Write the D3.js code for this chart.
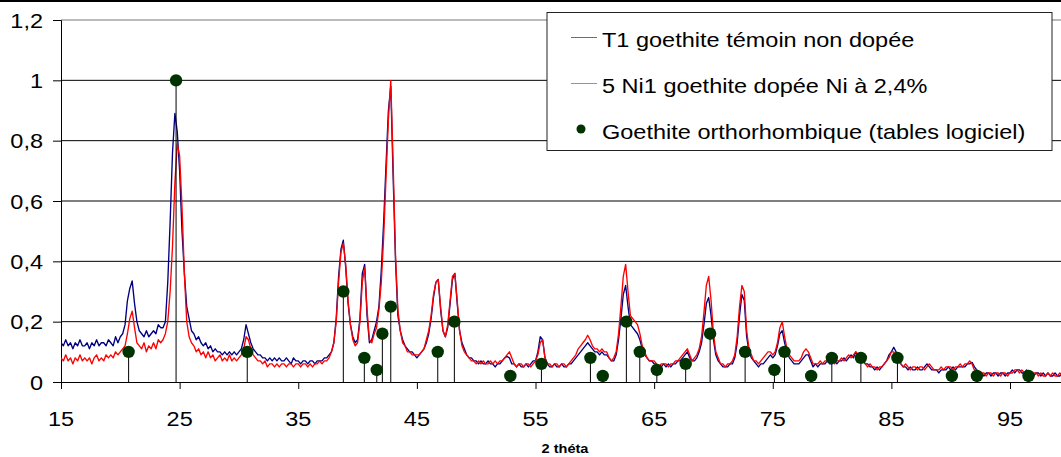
<!DOCTYPE html>
<html><head><meta charset="utf-8">
<script src="https://cdn.jsdelivr.net/npm/d3@7"></script>
<style>body{margin:0;background:#fff}svg{display:block}</style>
</head><body>
<svg id="c" width="1061" height="457"></svg>
<script>
// ---------- DATA ----------
const thetaStart = 15;
const thetaStep = 0.2;
// T1 goethite témoin non dopée (15.0 → 99.8, every 0.2°)
const t1Values = [
 0.13,0.12,0.14,0.12,0.13,0.11,0.13,0.12,0.14,0.12,0.12,0.13,0.11,0.13,0.12,0.14,0.12,0.13,0.13,0.12,0.14,0.13,0.12,0.15,0.13,
 0.15,0.16,0.19,0.27,0.31,0.335,0.26,0.2,0.17,0.16,0.15,0.17,0.15,0.16,0.17,0.16,0.19,0.18,0.18,0.2,0.33,0.53,0.76,0.89,0.83,
 0.7,0.5,0.36,0.25,0.21,0.17,0.16,0.14,0.15,0.13,0.12,0.13,0.11,0.12,0.1,0.11,0.1,0.1,0.09,0.1,0.09,0.1,0.09,0.1,0.09,
 0.1,0.11,0.14,0.19,0.16,0.13,0.11,0.1,0.09,0.09,0.08,0.08,0.07,0.08,0.07,0.08,0.07,0.08,0.07,0.07,0.08,0.07,0.06,0.08,0.07,
 0.07,0.06,0.07,0.07,0.06,0.07,0.07,0.06,0.07,0.07,0.07,0.08,0.08,0.09,0.1,0.13,0.21,0.35,0.44,0.47,0.38,0.26,0.19,0.15,0.13,
 0.14,0.21,0.36,0.39,0.22,0.13,0.14,0.17,0.2,0.25,0.37,0.53,0.72,0.9,0.98,0.68,0.4,0.22,0.17,0.14,0.12,0.11,0.1,0.1,0.09,
 0.08,0.09,0.1,0.11,0.13,0.16,0.21,0.28,0.33,0.34,0.24,0.17,0.15,0.18,0.26,0.34,0.36,0.26,0.17,0.13,0.11,0.09,0.08,0.08,0.07,
 0.07,0.06,0.07,0.06,0.06,0.07,0.06,0.06,0.05,0.06,0.06,0.07,0.08,0.085,0.08,0.06,0.06,0.05,0.06,0.05,0.05,0.06,0.05,0.06,0.07,
 0.07,0.1,0.15,0.14,0.08,0.06,0.05,0.05,0.06,0.05,0.05,0.06,0.05,0.05,0.06,0.06,0.07,0.08,0.09,0.1,0.11,0.12,0.13,0.12,0.11,
 0.1,0.1,0.09,0.1,0.09,0.09,0.08,0.07,0.07,0.09,0.14,0.21,0.29,0.32,0.25,0.19,0.18,0.17,0.16,0.14,0.11,0.09,0.08,0.07,0.07,
 0.06,0.06,0.05,0.05,0.06,0.05,0.06,0.05,0.06,0.06,0.07,0.07,0.08,0.09,0.1,0.08,0.07,0.07,0.08,0.1,0.13,0.19,0.26,0.28,0.22,
 0.14,0.09,0.07,0.06,0.05,0.05,0.05,0.06,0.06,0.08,0.13,0.22,0.29,0.27,0.15,0.1,0.08,0.07,0.06,0.05,0.06,0.06,0.07,0.08,0.09,
 0.08,0.09,0.12,0.16,0.17,0.13,0.1,0.08,0.07,0.06,0.06,0.06,0.07,0.08,0.09,0.09,0.07,0.05,0.06,0.05,0.06,0.06,0.06,0.07,0.06,
 0.06,0.07,0.06,0.07,0.07,0.08,0.07,0.08,0.09,0.08,0.1,0.09,0.08,0.07,0.06,0.06,0.05,0.05,0.04,0.05,0.04,0.05,0.06,0.07,0.09,
 0.1,0.115,0.1,0.07,0.06,0.05,0.05,0.04,0.05,0.04,0.04,0.05,0.04,0.04,0.05,0.06,0.05,0.04,0.04,0.04,0.03,0.04,0.04,0.04,0.05,
 0.04,0.05,0.04,0.05,0.05,0.05,0.05,0.06,0.06,0.065,0.05,0.04,0.03,0.03,0.02,0.03,0.03,0.02,0.03,0.03,0.02,0.03,0.03,0.02,0.03,
 0.03,0.04,0.03,0.04,0.04,0.03,0.03,0.04,0.03,0.03,0.02,0.03,0.03,0.02,0.03,0.02,0.03,0.02,0.02,0.03,0.02,0.02,0.03,0.02,0.02
];
// 5 Ni1 goethite dopée Ni à 2,4% (15.0 → 99.8, every 0.2°)
const ni1Values = [
 0.08,0.07,0.09,0.07,0.08,0.06,0.08,0.07,0.09,0.07,0.08,0.07,0.08,0.06,0.08,0.09,0.07,0.08,0.07,0.09,0.08,0.09,0.08,0.1,0.09,
 0.1,0.11,0.12,0.16,0.21,0.235,0.18,0.13,0.12,0.11,0.13,0.1,0.12,0.11,0.13,0.11,0.14,0.13,0.14,0.16,0.2,0.3,0.45,0.66,0.79,
 0.75,0.58,0.36,0.2,0.15,0.13,0.12,0.1,0.11,0.09,0.1,0.08,0.1,0.08,0.09,0.07,0.08,0.09,0.07,0.08,0.07,0.09,0.07,0.08,0.07,
 0.08,0.09,0.11,0.15,0.14,0.11,0.09,0.08,0.07,0.07,0.06,0.07,0.05,0.06,0.06,0.05,0.06,0.05,0.06,0.06,0.05,0.06,0.06,0.05,0.06,
 0.06,0.05,0.06,0.06,0.05,0.06,0.05,0.06,0.06,0.07,0.06,0.07,0.07,0.08,0.1,0.13,0.2,0.33,0.43,0.46,0.39,0.27,0.19,0.14,0.12,
 0.13,0.2,0.33,0.38,0.24,0.14,0.13,0.16,0.18,0.24,0.33,0.48,0.68,0.87,1.0,0.72,0.42,0.24,0.17,0.13,0.12,0.1,0.1,0.09,0.09,
 0.09,0.09,0.1,0.11,0.14,0.17,0.22,0.29,0.33,0.34,0.25,0.17,0.15,0.19,0.27,0.35,0.36,0.27,0.17,0.12,0.1,0.09,0.08,0.07,0.07,
 0.06,0.07,0.06,0.07,0.06,0.06,0.07,0.06,0.07,0.06,0.07,0.07,0.08,0.09,0.1,0.08,0.06,0.05,0.06,0.06,0.05,0.06,0.06,0.05,0.06,
 0.07,0.09,0.13,0.14,0.08,0.06,0.06,0.05,0.06,0.06,0.05,0.06,0.06,0.05,0.06,0.07,0.08,0.09,0.11,0.12,0.13,0.14,0.155,0.14,0.12,
 0.11,0.11,0.1,0.11,0.1,0.1,0.08,0.07,0.08,0.1,0.16,0.25,0.35,0.39,0.3,0.22,0.21,0.2,0.19,0.16,0.12,0.1,0.08,0.07,0.07,
 0.07,0.06,0.05,0.06,0.06,0.06,0.05,0.06,0.06,0.07,0.07,0.08,0.09,0.1,0.11,0.09,0.07,0.08,0.09,0.11,0.15,0.23,0.32,0.35,0.27,
 0.16,0.1,0.08,0.06,0.06,0.05,0.06,0.06,0.07,0.09,0.15,0.25,0.32,0.3,0.17,0.11,0.09,0.07,0.07,0.06,0.07,0.08,0.09,0.1,0.1,
 0.09,0.1,0.13,0.18,0.2,0.15,0.11,0.09,0.08,0.07,0.07,0.07,0.08,0.1,0.11,0.1,0.08,0.06,0.06,0.06,0.07,0.06,0.07,0.07,0.07,
 0.07,0.06,0.07,0.07,0.08,0.07,0.08,0.09,0.08,0.09,0.1,0.09,0.07,0.07,0.06,0.05,0.06,0.05,0.05,0.04,0.05,0.05,0.06,0.07,0.08,
 0.1,0.1,0.08,0.07,0.06,0.05,0.06,0.05,0.04,0.05,0.05,0.04,0.05,0.05,0.04,0.05,0.06,0.05,0.04,0.04,0.04,0.05,0.04,0.05,0.05,
 0.05,0.04,0.05,0.05,0.06,0.05,0.06,0.06,0.07,0.06,0.04,0.04,0.03,0.03,0.03,0.02,0.03,0.03,0.02,0.03,0.03,0.02,0.03,0.03,0.02,
 0.03,0.03,0.04,0.04,0.03,0.04,0.03,0.03,0.03,0.02,0.03,0.03,0.02,0.03,0.02,0.02,0.03,0.02,0.03,0.02,0.02,0.03,0.02,0.02,0.02
];
// Goethite orthorhombique (tables logiciel): positions and relative intensities
const refTheta = [20.7,24.7,30.7,38.8,40.57,41.62,42.09,42.8,46.76,48.16,52.88,55.5,59.63,60.67,62.66,63.79,65.23,67.66,69.72,72.67,75.14,75.99,78.24,79.98,82.43,85.51,90.1,92.21,96.56];
const refIntensity = [0.1,1,0.1,0.3,0.08,0.04,0.16,0.25,0.1,0.2,0.02,0.06,0.08,0.02,0.2,0.1,0.04,0.06,0.16,0.1,0.04,0.1,0.02,0.08,0.08,0.08,0.02,0.02,0.02];

const seriesNames = ["T1 goethite témoin non dopée", "5 Ni1 goethite dopée Ni à 2,4%", "Goethite orthorhombique (tables logiciel)"];
const xTicks = [15,25,35,45,55,65,75,85,95];
const yTicks = [0,0.2,0.4,0.6,0.8,1,1.2];
const yTickLabels = ["0","0,2","0,4","0,6","0,8","1","1,2"];
const xAxisTitle = "2 théta";

// ---------- DRAW ----------
const svg = d3.select("#c");
const W = 1061, H = 457;
const stretch = 1.12;
const FONT = "Liberation Sans, Arial, sans-serif";

const x = d3.scaleLinear().domain([15, 100]).range([61, 61 + 85 * 11.8625]);
const y = d3.scaleLinear().domain([0, 1.2]).range([382, 20]);

svg.append("rect").attr("width", W).attr("height", H).attr("fill", "#fff");
// outer frame (top edge visible)
svg.append("line").attr("x1", 0).attr("x2", W).attr("y1", 1).attr("y2", 1)
  .attr("stroke", "#000").attr("stroke-width", 2);

// gridlines
svg.append("g").selectAll("line").data(yTicks.filter(d => d > 0)).join("line")
  .attr("x1", x(15)).attr("x2", W).attr("y1", d => y(d)).attr("y2", d => y(d))
  .attr("stroke", d => d === 1.2 ? "#777" : "#000").attr("stroke-width", 1);

// axes
const yAxis = d3.axisLeft(y).tickValues(yTicks).tickSize(8).tickFormat("");
const gy = svg.append("g").attr("transform", `translate(${x(15)},0)`).call(yAxis);
gy.select(".domain").attr("stroke", "#000");
gy.selectAll(".tick line").attr("stroke", "#000");
const xAxis = d3.axisBottom(x).tickValues(xTicks).tickSize(7).tickFormat("");
const gx = svg.append("g").attr("transform", `translate(0,${y(0)})`).call(xAxis);
gx.select(".domain").attr("stroke", "#000");
gx.selectAll(".tick line").attr("stroke", "#000");

// tick labels (slightly wide glyphs as in the original)
svg.append("g").selectAll("text").data(yTicks).join("text")
  .attr("transform", d => `translate(43,${y(d) + 7.5}) scale(${stretch},1)`)
  .attr("text-anchor", "end").attr("font-family", FONT).attr("font-size", 21)
  .text((d, i) => yTickLabels[i]);
svg.append("g").selectAll("text").data(xTicks).join("text")
  .attr("transform", d => `translate(${x(d)},426) scale(${stretch},1)`)
  .attr("text-anchor", "middle").attr("font-family", FONT).attr("font-size", 21)
  .text(d => d);
svg.append("text")
  .attr("transform", `translate(565,453) scale(${stretch},1)`)
  .attr("text-anchor", "middle").attr("font-family", FONT).attr("font-size", 13)
  .attr("font-weight", "bold").text(xAxisTitle);

// traces
const line = d3.line().x((d, i) => x(thetaStart + i * thetaStep)).y(d => y(d));
svg.append("defs").append("clipPath").attr("id", "pc")
  .append("rect").attr("x", x(15)).attr("y", 0).attr("width", W - x(15)).attr("height", y(0));
const plot = svg.append("g").attr("clip-path", "url(#pc)");
plot.append("path").datum(t1Values).attr("d", line)
  .attr("fill", "none").attr("stroke", "#000080").attr("stroke-width", 1.35).attr("stroke-linejoin", "round");
plot.append("path").datum(ni1Values).attr("d", line)
  .attr("fill", "none").attr("stroke", "#ff0000").attr("stroke-width", 1.35).attr("stroke-linejoin", "round");

// reference stems + dots
const ref = refTheta.map((t, i) => ({t, v: refIntensity[i]}));
svg.append("g").selectAll("line").data(ref).join("line")
  .attr("x1", d => x(d.t)).attr("x2", d => x(d.t)).attr("y1", y(0)).attr("y2", d => y(d.v))
  .attr("stroke", "#000").attr("stroke-width", 1);
svg.append("g").selectAll("circle").data(ref).join("circle")
  .attr("cx", d => x(d.t)).attr("cy", d => y(d.v)).attr("r", 6.2).attr("fill", "#003300");

// legend
const lg = svg.append("g");
lg.append("rect").attr("x", 547).attr("y", 12.5).attr("width", 505).attr("height", 138)
  .attr("fill", "#fff").attr("stroke", "#222").attr("stroke-width", 1);
const rows = [37.5, 83.5, 129];
lg.append("line").attr("x1", 571).attr("x2", 597).attr("y1", rows[0]).attr("y2", rows[0])
  .attr("stroke", "#000080").attr("stroke-width", 1).attr("stroke-opacity", 0.6);
lg.append("line").attr("x1", 571).attr("x2", 597).attr("y1", rows[1]).attr("y2", rows[1])
  .attr("stroke", "#ff0000").attr("stroke-width", 1).attr("stroke-opacity", 0.6);
lg.append("circle").attr("cx", 581).attr("cy", rows[2]).attr("r", 4.5).attr("fill", "#003300");
lg.selectAll("text.lt").data(seriesNames).join("text").attr("class", "lt")
  .attr("transform", (d, i) => `translate(602,${rows[i] + 9.5}) scale(${stretch},1)`)
  .attr("font-family", FONT).attr("font-size", 21).text(d => d);
</script>
</body></html>
